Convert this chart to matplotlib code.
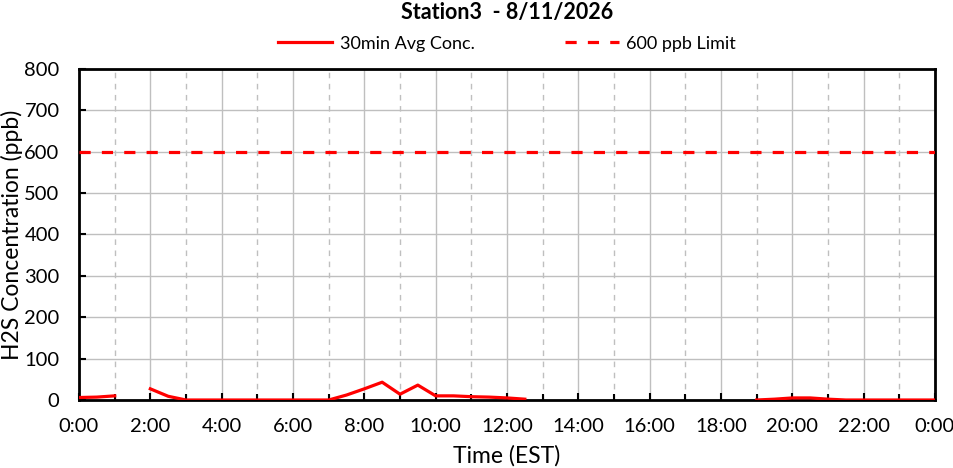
import numpy as np
import matplotlib.pyplot as plt
from matplotlib.ticker import MultipleLocator, FuncFormatter

# --- Data (30-minute averages, ppb) ---
hours = [i * 0.5 for i in range(49)]
conc = [6, 7, 10, np.nan, 27, 9, 0, 0, 0, 0, 0, 0, 0, 0,
        0, 12, 27, 43, 14, 36, 10, 10, 8, 7, 5, 2,
        np.nan, np.nan, np.nan, np.nan, np.nan, np.nan, np.nan, np.nan, np.nan, np.nan, np.nan, np.nan,
        0, 2, 5, 5, 2, 0, 0, 0, 0, 0, 0]
limit = 600
title = "Station3  - 8/11/2026"

plt.rcParams['font.family'] = ['Lato', 'DejaVu Sans']

fig = plt.figure(figsize=(9.54, 4.68), dpi=100)
ax = fig.add_axes([79 / 954, 1 - 400 / 468, (935 - 79) / 954, (400 - 69) / 468])

ax.plot(hours, conc, color='#ff0000', lw=2.3, label='30min Avg Conc.', zorder=3)
ax.plot([0, 24], [limit, limit], color='#ff0000', lw=2.3, ls=(0, (3.5, 3.5)),
        label='600 ppb Limit', zorder=3)

ax.set_xlim(0, 24)
ax.set_ylim(0, 800)
ax.xaxis.set_major_locator(MultipleLocator(2))
ax.xaxis.set_minor_locator(MultipleLocator(1))
ax.yaxis.set_major_locator(MultipleLocator(100))
ax.xaxis.set_major_formatter(FuncFormatter(lambda v, p: f"{int(v) % 24}:00"))

ax.grid(which='major', color='#bfbfbf', lw=1)
ax.grid(which='minor', axis='x', color='#bfbfbf', lw=1, ls=(0, (4, 4)))
ax.tick_params(which='both', direction='in', labelsize=14.5, length=5, width=1.5)
ax.tick_params(which='minor', length=4)
ax.tick_params(axis='x', pad=13)
ax.tick_params(axis='y', pad=14)
for s in ax.spines.values():
    s.set_linewidth(2)
    s.set_color('black')

ax.set_xlabel('Time (EST)', fontsize=16.5, labelpad=7)
ax.set_ylabel('H2S Concentration (ppb)', fontsize=16.5, va='center')
ax.yaxis.set_label_coords(-0.078, 0.5)

fig.text(0.5 * (79 + 935) / 954, 1 - 12 / 468, title, fontsize=15.5,
         fontweight='bold', ha='center', va='center')
ax.legend(loc='lower center', bbox_to_anchor=(0.5, 1.02), ncol=2, frameon=False,
          fontsize=13, handlelength=3.0, handletextpad=0.4, columnspacing=5.0,
          borderaxespad=0.2)

fig.savefig('out.png', dpi=100)
